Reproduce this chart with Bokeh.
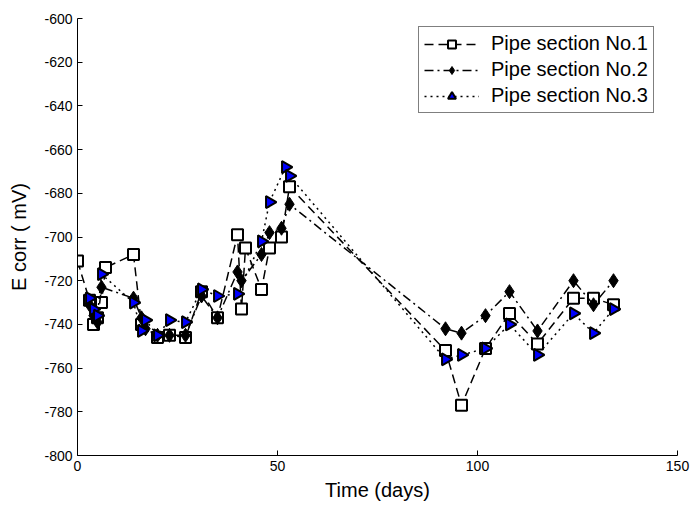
import math
from bokeh.plotting import figure
from bokeh.models import Range1d, FixedTicker, Legend, LegendItem
from bokeh.embed import file_html
from bokeh.resources import INLINE

# ---- data ----
days_1 = [0, 3, 4, 5, 6, 7, 14, 16, 20, 23, 27, 31, 35, 40, 41, 42, 46, 48, 51, 53,
          92, 96, 102, 108, 115, 124, 129, 134]
ecorr_1 = [-711, -729, -740, -737, -730, -714, -708, -740, -746, -745, -746, -725, -737,
           -699, -733, -705, -724, -705, -700, -677,
           -752, -777, -751, -735, -749, -728, -728, -731]

days_2 = [3, 4, 5, 6, 14, 16, 17, 20, 23, 27, 31, 35, 40, 41, 46, 48, 51, 53,
          92, 96, 102, 108, 115, 124, 129, 134]
ecorr_2 = [-731, -736, -739, -723, -728, -737, -742, -745, -745, -745, -727, -737,
           -716, -720, -708, -698, -696, -685,
           -742, -744, -736, -725, -743, -720, -731, -720]

days_3 = [3, 4, 5, 6, 14, 16, 17, 20, 23, 27, 31, 35, 40, 46, 48, 52, 53,
          92, 96, 102, 108, 115, 124, 129, 134]
ecorr_3 = [-728, -733, -736, -717, -730, -743, -738, -745, -738, -739, -724, -727,
           -726, -702, -684, -668, -672,
           -756, -754, -751, -740, -754, -735, -744, -733]

series_names = ["Pipe section No.1", "Pipe section No.2", "Pipe section No.3"]
x_ticks = [0, 50, 100, 150]
y_ticks = list(range(-800, -599, 20))

FONT = "Liberation Sans"

p = figure(width=690, height=505, output_backend="svg", toolbar_location=None,
           x_range=Range1d(0, 150), y_range=Range1d(-800, -600),
           min_border_left=77, min_border_right=13, min_border_top=18, min_border_bottom=50)
p.outline_line_color = None
p.grid.visible = False
p.background_fill_color = "white"
p.border_fill_color = "white"

for ax in (p.xaxis[0], p.yaxis[0]):
    ax.major_tick_in = 5
    ax.major_tick_out = 0
    ax.minor_tick_line_color = None
    ax.axis_line_color = "black"
    ax.major_tick_line_color = "black"
    ax.major_label_text_font = FONT
    ax.major_label_text_font_size = "14px"
    ax.major_label_text_color = "black"
    ax.axis_label_text_font = FONT
    ax.axis_label_text_font_size = "20px"
    ax.axis_label_text_font_style = "normal"
    ax.axis_label_text_color = "black"

p.xaxis.ticker = FixedTicker(ticks=x_ticks)
p.yaxis.ticker = FixedTicker(ticks=y_ticks)
p.xaxis.major_label_overrides = {t: str(t) for t in x_ticks}
p.yaxis.major_label_overrides = {t: str(t) for t in y_ticks}
p.xaxis.axis_label = "Time (days)"
p.yaxis.axis_label = "E corr ( mV)"
p.xaxis.major_label_standoff = 5
p.yaxis.major_label_standoff = 5
p.xaxis.axis_label_standoff = 5
p.yaxis.axis_label_standoff = 11

l1 = p.line(days_1, ecorr_1, line_color="black", line_width=1.5, line_dash="9 5")
m1 = p.scatter(days_1, ecorr_1, marker="square", size=11, fill_color="white",
               line_color="black", line_width=2)
l2 = p.line(days_2, ecorr_2, line_color="black", line_width=1.5, line_dash="9 4 2 4")
m2 = p.scatter(days_2, ecorr_2, marker="diamond", size=14, fill_color="black",
               line_color="black", line_width=1)
l3 = p.line(days_3, ecorr_3, line_color="black", line_width=1.5, line_dash="2 4")
m3 = p.scatter(days_3, ecorr_3, marker="triangle", size=12, angle=-math.pi / 2,
               fill_color="#0000ff", line_color="black", line_width=2)

legend = Legend(items=[LegendItem(label=series_names[0], renderers=[l1, m1]),
                       LegendItem(label=series_names[1], renderers=[l2, m2]),
                       LegendItem(label=series_names[2], renderers=[l3, m3])],
                location=(341, 342), orientation="vertical")
legend.label_text_font = FONT
legend.label_text_font_size = "20px"
legend.label_text_color = "black"
legend.glyph_width = 55
legend.glyph_height = 20
legend.spacing = 3
legend.padding = 5
legend.margin = 0
legend.label_standoff = 12
legend.border_line_color = "black"
legend.border_line_width = 1
legend.background_fill_color = "white"
legend.background_fill_alpha = 1
p.add_layout(legend, "center")

open("out.html", "w").write(file_html(p, INLINE))
